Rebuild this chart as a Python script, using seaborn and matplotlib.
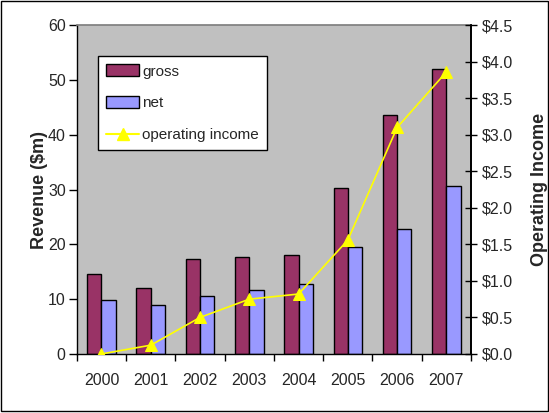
import matplotlib
matplotlib.use("Agg")
import matplotlib.pyplot as plt
import seaborn as sns
import pandas as pd
import numpy as np
from matplotlib.patches import Rectangle, Patch
from matplotlib.lines import Line2D
from matplotlib.ticker import FixedLocator, FuncFormatter

years = ["2000", "2001", "2002", "2003", "2004", "2005", "2006", "2007"]
gross = [14.6, 12.0, 17.3, 17.7, 18.1, 30.3, 43.6, 52.0]
net = [9.8, 8.9, 10.6, 11.7, 12.8, 19.5, 22.8, 30.6]
operating_income = [0.0, 0.12, 0.5, 0.75, 0.82, 1.56, 3.1, 3.86]

sns.set_theme(style="white")
plt.rcParams["font.family"] = ["Liberation Sans", "DejaVu Sans"]

df = pd.DataFrame({
    "year": years * 2,
    "value": gross + net,
    "series": ["gross"] * len(years) + ["net"] * len(years),
})

fig = plt.figure(figsize=(5.49, 4.13), dpi=100)
ax = fig.add_axes([0.140, 0.143, 0.718, 0.796])
ax.set_facecolor("#C0C0C0")

sns.barplot(data=df, x="year", y="value", hue="series", order=years,
            hue_order=["gross", "net"], palette=["#993366", "#9999FF"],
            width=0.58, gap=0, edgecolor="black", linewidth=1.0,
            saturation=1, ax=ax, legend=False)

ax.set_xlim(-0.5, len(years) - 0.5)
ax.set_ylim(0, 60)
ax.set_yticks(np.arange(0, 61, 10))
ax.set_xlabel("")
ax.set_ylabel("Revenue ($m)", fontsize=13, fontweight="bold", labelpad=0)
ax.tick_params(axis="y", direction="out", length=6, width=1, color="black",
               labelsize=11.5, left=True, pad=2)
ax.xaxis.set_major_locator(FixedLocator(np.arange(len(years))))
ax.xaxis.set_minor_locator(FixedLocator(np.arange(-0.5, len(years), 1.0)))
ax.tick_params(axis="x", which="major", length=0, labelsize=11.5, pad=14)
ax.tick_params(axis="x", which="minor", direction="out", length=5, width=1,
               color="black", bottom=True)
for s in ["left", "bottom"]:
    ax.spines[s].set_color("black")
    ax.spines[s].set_linewidth(1.0)
ax.spines["top"].set_color("#808080")
ax.spines["right"].set_color("black")

ax2 = ax.twinx()
ax2.set_ylim(0, 4.5)
x_pos = np.arange(len(years))
sns.lineplot(x=x_pos, y=operating_income, ax=ax2, color="#FFFF00",
             marker="^", markersize=8, markeredgecolor="#FFFF00",
             linewidth=1.2, legend=False)
ax2.set_xlim(-0.5, len(years) - 0.5)
ax2.set_yticks(np.arange(0, 4.51, 0.5))
ax2.yaxis.set_major_formatter(FuncFormatter(lambda v, p: f"${v:.1f}"))
ax2.tick_params(axis="y", direction="inout", length=9, width=1, color="black",
                labelsize=11.5, right=True, pad=3)
ax2.set_ylabel("Operating Income", fontsize=13, fontweight="bold", labelpad=13)
for s in ["left", "bottom", "top"]:
    ax2.spines[s].set_visible(False)
ax2.spines["right"].set_color("black")

handles = [
    Patch(facecolor="#993366", edgecolor="black", label="gross"),
    Patch(facecolor="#9999FF", edgecolor="black", label="net"),
    Line2D([0], [0], color="#FFFF00", marker="^", markersize=8,
           label="operating income"),
]
leg = ax2.legend(handles=handles, loc="upper left",
                 bbox_to_anchor=(0.053, 0.906), frameon=True, fancybox=False,
                 edgecolor="black", facecolor="white", framealpha=1,
                 fontsize=11, handlelength=2.15, handleheight=0.8,
                 handletextpad=0.2, labelspacing=1.15, borderpad=0.55,
                 borderaxespad=0)
leg.get_frame().set_linewidth(1.0)

fig.patches.append(Rectangle((0.002, 0.004), 0.996, 0.994, transform=fig.transFigure,
                             fill=False, edgecolor="black", linewidth=1.0))

fig.savefig("out.png", dpi=100)
